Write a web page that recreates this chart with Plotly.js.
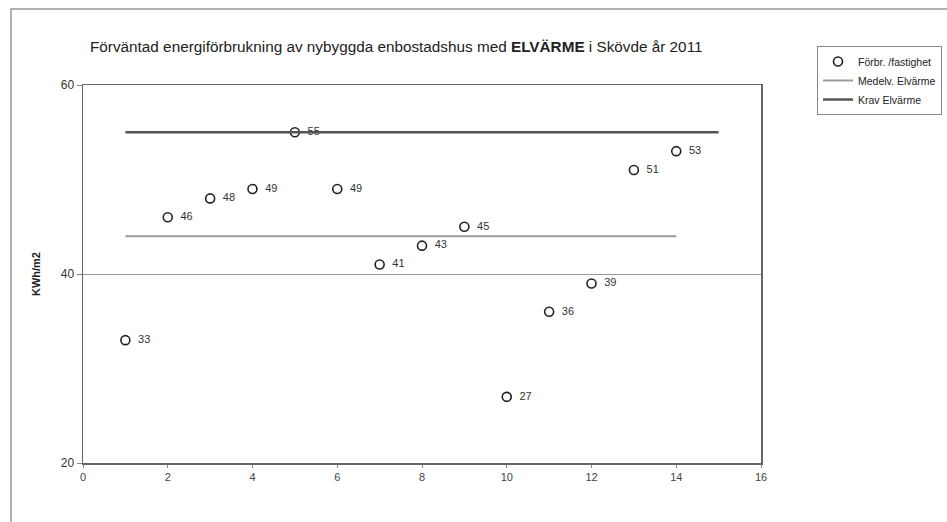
<!DOCTYPE html>
<html>
<head>
<meta charset="utf-8">
<script src="https://cdn.plot.ly/plotly-3.0.1.min.js"></script>
<style>html,body{margin:0;padding:0;background:#fff;}#chart{width:947px;height:522px;}</style>
</head>
<body>
<div id="chart"></div>
<script>
// Data
const propertyIndex = [1, 2, 3, 4, 5, 6, 7, 8, 9, 10, 11, 12, 13, 14];
const consumption = [33, 46, 48, 49, 55, 49, 41, 43, 45, 27, 36, 39, 51, 53];
const meanX = [1, 14];
const meanY = [44, 44];
const reqX = [1, 15];
const reqY = [55, 55];
const xTicks = [0, 2, 4, 6, 8, 10, 12, 14, 16];
const yTicks = [20, 40, 60];
const seriesNames = ['Förbr. /fastighet', 'Medelv. Elvärme', 'Krav Elvärme'];
const titleText = 'Förväntad energiförbrukning av nybyggda enbostadshus med <b>ELVÄRME</b> i Skövde år 2011';
const yTitle = 'KWh/m2';

const FONT = 'Liberation Sans, Arial, sans-serif';

const traces = [
  {
    x: propertyIndex, y: consumption, name: seriesNames[0],
    type: 'scatter', mode: 'markers+text',
    text: consumption.map(String), texttemplate: '  %{text}', textposition: 'middle right',
    textfont: {family: FONT, size: 11, color: '#333'},
    marker: {symbol: 'circle-open', size: 9, color: '#222', line: {width: 1.6, color: '#222'}},
    cliponaxis: false
  },
  {
    x: meanX, y: meanY, name: seriesNames[1],
    type: 'scatter', mode: 'lines',
    line: {color: '#9a9a9a', width: 2}
  },
  {
    x: reqX, y: reqY, name: seriesNames[2],
    type: 'scatter', mode: 'lines',
    line: {color: '#555', width: 2.5}
  }
];

const layout = {
  width: 947, height: 522,
  margin: {l: 83, r: 186, t: 85, b: 59},
  paper_bgcolor: '#fff', plot_bgcolor: '#fff',
  font: {family: FONT, color: '#333'},
  title: {
    text: titleText, font: {family: FONT, size: 15.3, color: '#222'},
    xref: 'paper', x: (90 - 83) / 678, xanchor: 'left',
    yref: 'container', y: 1 - 47 / 522, yanchor: 'middle'
  },
  xaxis: {
    range: [0, 16], tickmode: 'array', tickvals: xTicks,
    ticks: 'outside', ticklen: 3, tickcolor: '#888',
    showgrid: false, zeroline: false,
    showline: true, linecolor: '#666', linewidth: 1.5, mirror: true,
    tickfont: {family: FONT, size: 11, color: '#444'}
  },
  yaxis: {
    range: [20, 60], tickmode: 'array', tickvals: yTicks,
    ticks: 'outside', ticklen: 5, tickcolor: '#888',
    showgrid: true, gridcolor: '#999', gridwidth: 1, zeroline: false,
    showline: true, linecolor: '#666', linewidth: 1.5, mirror: true,
    tickfont: {family: FONT, size: 12, color: '#333'},
    title: {text: '<b>' + yTitle + '</b>', font: {family: FONT, size: 11, color: '#222'}, standoff: 18}
  },
  showlegend: true,
  legend: {
    xref: 'container', x: 817 / 947, xanchor: 'left',
    yref: 'container', y: 1 - 46 / 522, yanchor: 'top',
    bordercolor: '#888', borderwidth: 1, bgcolor: '#fff',
    font: {family: FONT, size: 10.5, color: '#222'},
    itemwidth: 30, tracegroupgap: 0
  },
  shapes: [
    {type: 'rect', xref: 'paper', yref: 'paper',
     x0: (11 - 83) / 678, x1: (960 - 83) / 678,
     y0: (463 - 540) / 378, y1: (463 - 9) / 378,
     line: {color: '#999', width: 1.5}, fillcolor: 'rgba(0,0,0,0)', layer: 'below'}
  ]
};

Plotly.newPlot('chart', traces, layout, {displayModeBar: false, staticPlot: true});
</script>
</body>
</html>
